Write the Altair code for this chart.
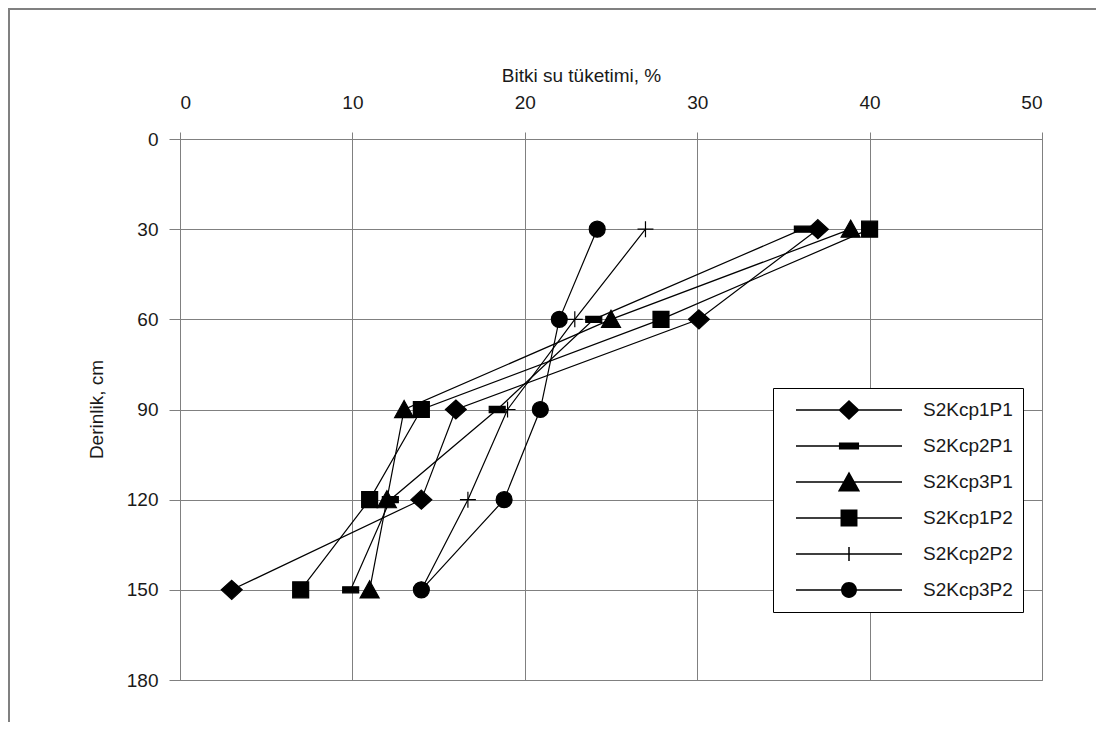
import altair as alt
import pandas as pd

depths = [30, 60, 90, 120, 150]
series_names = ["S2Kcp1P1", "S2Kcp2P1", "S2Kcp3P1", "S2Kcp1P2", "S2Kcp2P2", "S2Kcp3P2"]
s2kcp1p1 = [37.0, 30.1, 16.0, 14.0, 3.0]
s2kcp2p1 = [36.1, 24.0, 18.4, 12.2, 9.9]
s2kcp3p1 = [38.9, 25.0, 13.0, 12.0, 11.0]
s2kcp1p2 = [40.0, 27.9, 14.0, 11.0, 7.0]
s2kcp2p2 = [27.0, 22.9, 19.0, 16.7, 14.0]
s2kcp3p2 = [24.2, 22.0, 20.9, 18.8, 14.0]
x_ticks = [0, 10, 20, 30, 40, 50]
y_ticks = [0, 30, 60, 90, 120, 150, 180]

values = [s2kcp1p1, s2kcp2p1, s2kcp3p1, s2kcp1p2, s2kcp2p2, s2kcp3p2]
rows = []
for name, vals in zip(series_names, values):
    for d, v in zip(depths, vals):
        rows.append({"series": name, "depth": d, "value": v})
df = pd.DataFrame(rows)

FONT = "Liberation Sans"
GRAY = "#808080"

# marker shapes in the plot (unit box [-1,1] -> sqrt(size) px)
plot_paths = [
    "M0,-1L1.1,0L0,1L-1.1,0Z",
    "M-0.84,-0.32H0.84V0.32H-0.84Z",
    "M0,-0.95L1,0.85H-1Z",
    "M-0.84,-0.84H0.84V0.84H-0.84Z",
    "M-0.84,0H0.84M0,-0.84V0.84",
    "M0.84,0A0.84,0.84,0,1,1,-0.84,0A0.84,0.84,0,1,1,0.84,0Z",
]
# legend symbols: thin filled bar as the line, plus the marker (fill only)
bar = "M-1,-0.013H1V0.013H-1Z"
legend_paths = [
    bar + "M0,-0.19L0.2,0L0,0.19L-0.2,0Z",
    bar + "M-0.19,-0.066H0.19V0.066H-0.19Z",
    bar + "M0,-0.2L0.21,0.18H-0.21Z",
    bar + "M-0.16,-0.16H0.16V0.16H-0.16Z",
    bar + "M-0.13,-0.0142H0.13V0.0142H-0.13ZM-0.0142,-0.13H0.0142V0.13H-0.0142Z",
    bar + "M0.15,0A0.15,0.15,0,1,1,-0.15,0A0.15,0.15,0,1,1,0.15,0Z",
]

x_enc = alt.X(
    "value:Q",
    scale=alt.Scale(domain=[0, 50], nice=False, zero=False),
    axis=alt.Axis(
        orient="top", values=x_ticks, title="Bitki su tüketimi, %",
        titleX=401, titleY=-64, titleBaseline="middle", titleAlign="center",
        tickSize=7, labelPadding=20, format="d",
    ),
)
y_enc = alt.Y(
    "depth:Q",
    scale=alt.Scale(domain=[0, 180], reverse=True, nice=False, zero=False),
    axis=alt.Axis(
        values=y_ticks, title="Derinlik, cm",
        titleX=-84, titleY=270, titleBaseline="middle", titleAlign="center", titleAngle=-90,
        tickSize=11, labelPadding=11, format="d",
    ),
)

base = alt.Chart(df)

lines = base.mark_line(color="black", strokeWidth=1.2).encode(
    x=x_enc, y=y_enc, detail="series:N", order="depth:Q"
)

points = base.mark_point(filled=True, fill="black", stroke="black", strokeWidth=1.2, size=90.25 * 4, opacity=1).encode(
    x=x_enc, y=y_enc,
    shape=alt.Shape("series:N", scale=alt.Scale(domain=series_names, range=plot_paths), legend=None),
)

legend_layer = base.mark_point(filled=True, color="black", fill="black", opacity=0).encode(
    x=x_enc, y=y_enc,
    shape=alt.Shape(
        "series:N",
        scale=alt.Scale(domain=series_names, range=legend_paths),
        legend=alt.Legend(
            title=None, orient="none", legendX=593, legendY=249,
            strokeColor="black", fillColor="white", padding=10,
            symbolOffset=13, labelOffset=21, rowPadding=12, clipHeight=24,
            symbolSize=106 * 106, symbolStrokeWidth=0,
            symbolFillColor="black", symbolOpacity=1,
            labelFont=FONT, labelFontSize=19, labelColor="#1a1a1a",
            labelExpr="datum.label + '\u00a0\u00a0'",
        ),
    ),
)

frame_top = alt.Chart(df).mark_rule(color=GRAY, strokeWidth=1.5).encode(
    x=alt.value(-172), x2=alt.value(920), y=alt.value(-130.5)
)
frame_left = alt.Chart(df).mark_rule(color=GRAY, strokeWidth=1.5).encode(
    x=alt.value(-171.5), y=alt.value(-131), y2=alt.value(590)
)

chart = alt.layer(frame_top, frame_left, lines, points, legend_layer).resolve_scale(
    shape="independent"
).properties(
    width=862, height=541,
    autosize=alt.AutoSizeParams(type="none"),
    padding={"left": 172, "top": 131, "right": 54, "bottom": 42},
    background="white",
).configure_view(
    stroke=GRAY, strokeWidth=1
).configure_axis(
    grid=True, gridColor=GRAY, gridOpacity=1, gridWidth=1,
    domainColor=GRAY, domainWidth=1, tickColor=GRAY, tickWidth=1,
    labelFont=FONT, labelFontSize=19, labelColor="#1a1a1a",
    titleFont=FONT, titleFontSize=19, titleColor="#1a1a1a", titleFontWeight="normal",
)

chart.save("out.html", embed_options={"renderer": "svg", "actions": False})
